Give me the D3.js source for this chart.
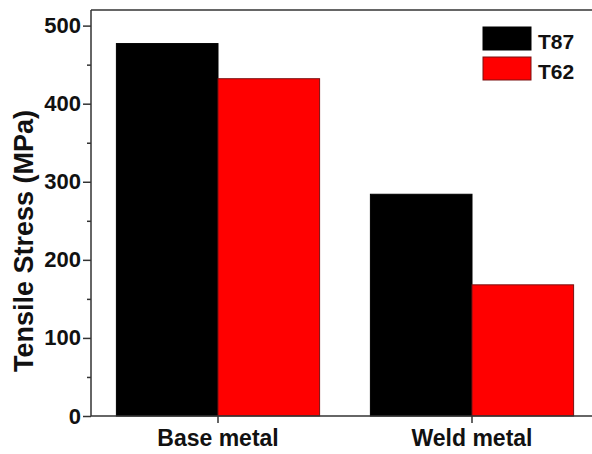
<!DOCTYPE html>
<html><head><meta charset="utf-8">
<script src="https://cdn.jsdelivr.net/npm/d3@7"></script>
<style>body{margin:0;background:#fff}svg{display:block;font-family:"Liberation Sans",Arial,sans-serif;font-weight:bold}</style>
</head><body>
<svg id="c" width="592" height="454"></svg>
<script>
const categories = ["Base metal", "Weld metal"];
const seriesNames = ["T87", "T62"];
const T87 = [477, 284];
const T62 = [432, 168];
const seriesColors = ["#000000", "#ff0000"];
const seriesStroke = ["#000000", "#7a1010"];
const yTicks = [0, 100, 200, 300, 400, 500];
const yMinorTicks = [50, 150, 250, 350, 450];

const svg = d3.select("#c");
const L = 91, R = 599, T = 10, B = 416;
const FF = "Liberation Sans, Arial, sans-serif";
const x = d3.scaleBand().domain(categories).range([L, R]).paddingInner(0.2).paddingOuter(0.1);
const xs = d3.scaleBand().domain(seriesNames).range([0, x.bandwidth()]);
const y = d3.scaleLinear().domain([0, 520]).range([B, T]);

const data = [T87, T62];
const g = svg.append("g");
categories.forEach((c, i) => {
  seriesNames.forEach((s, j) => {
    g.append("rect")
      .attr("x", x(c) + xs(s))
      .attr("y", y(data[j][i]))
      .attr("width", xs.bandwidth())
      .attr("height", y(0) - y(data[j][i]))
      .attr("fill", seriesColors[j])
      .attr("stroke", seriesStroke[j])
      .attr("stroke-width", 1);
  });
});

// frame
const axCol = "#333";
svg.append("line").attr("x1", L).attr("x2", R).attr("y1", T).attr("y2", T).attr("stroke", axCol).attr("stroke-width", 1.5);

const yAxis = svg.append("g").attr("transform", `translate(${L},0)`)
  .call(d3.axisLeft(y).tickValues(yTicks).tickSize(8).tickPadding(2).tickFormat(d3.format("d")));
yAxis.select(".domain").attr("d", `M0,${T}V${B}`).attr("stroke", axCol).attr("stroke-width", 1.5);
yAxis.selectAll(".tick line").attr("stroke", axCol).attr("stroke-width", 1.5);
yAxis.selectAll("text").attr("font-size", 22).attr("font-weight", "bold").attr("fill", "#111").attr("font-family", FF);

const yMinor = svg.append("g").attr("transform", `translate(${L},0)`)
  .call(d3.axisLeft(y).tickValues(yMinorTicks).tickSize(4).tickFormat(""));
yMinor.select(".domain").remove();
yMinor.selectAll(".tick line").attr("stroke", axCol).attr("stroke-width", 1.5);

const xAxis = svg.append("g").attr("transform", `translate(0,${B})`)
  .call(d3.axisBottom(x).tickSize(7).tickPadding(7));
xAxis.select(".domain").attr("d", `M${L},0H${R}`).attr("stroke", axCol).attr("stroke-width", 1.5);
xAxis.selectAll(".tick line").attr("stroke", axCol).attr("stroke-width", 1.5);
xAxis.selectAll("text").attr("font-size", 23).attr("font-weight", "bold").attr("fill", "#111").attr("font-family", FF);

svg.append("text")
  .attr("transform", `translate(33,${241}) rotate(-90)`)
  .attr("text-anchor", "middle")
  .attr("font-size", 27).attr("fill", "#111").attr("font-family", FF)
  .text("Tensile Stress (MPa)");

// legend
const lg = svg.append("g");
seriesNames.forEach((s, j) => {
  const yy = 27 + j * 30;
  lg.append("rect").attr("x", 483).attr("y", yy).attr("width", 48).attr("height", 23)
    .attr("fill", seriesColors[j]).attr("stroke", seriesStroke[j]).attr("stroke-width", 1);
  lg.append("text").attr("x", 538).attr("y", yy + 22).attr("font-size", 21).attr("fill", "#111").attr("font-family", FF).text(s);
});
</script>
</body></html>
